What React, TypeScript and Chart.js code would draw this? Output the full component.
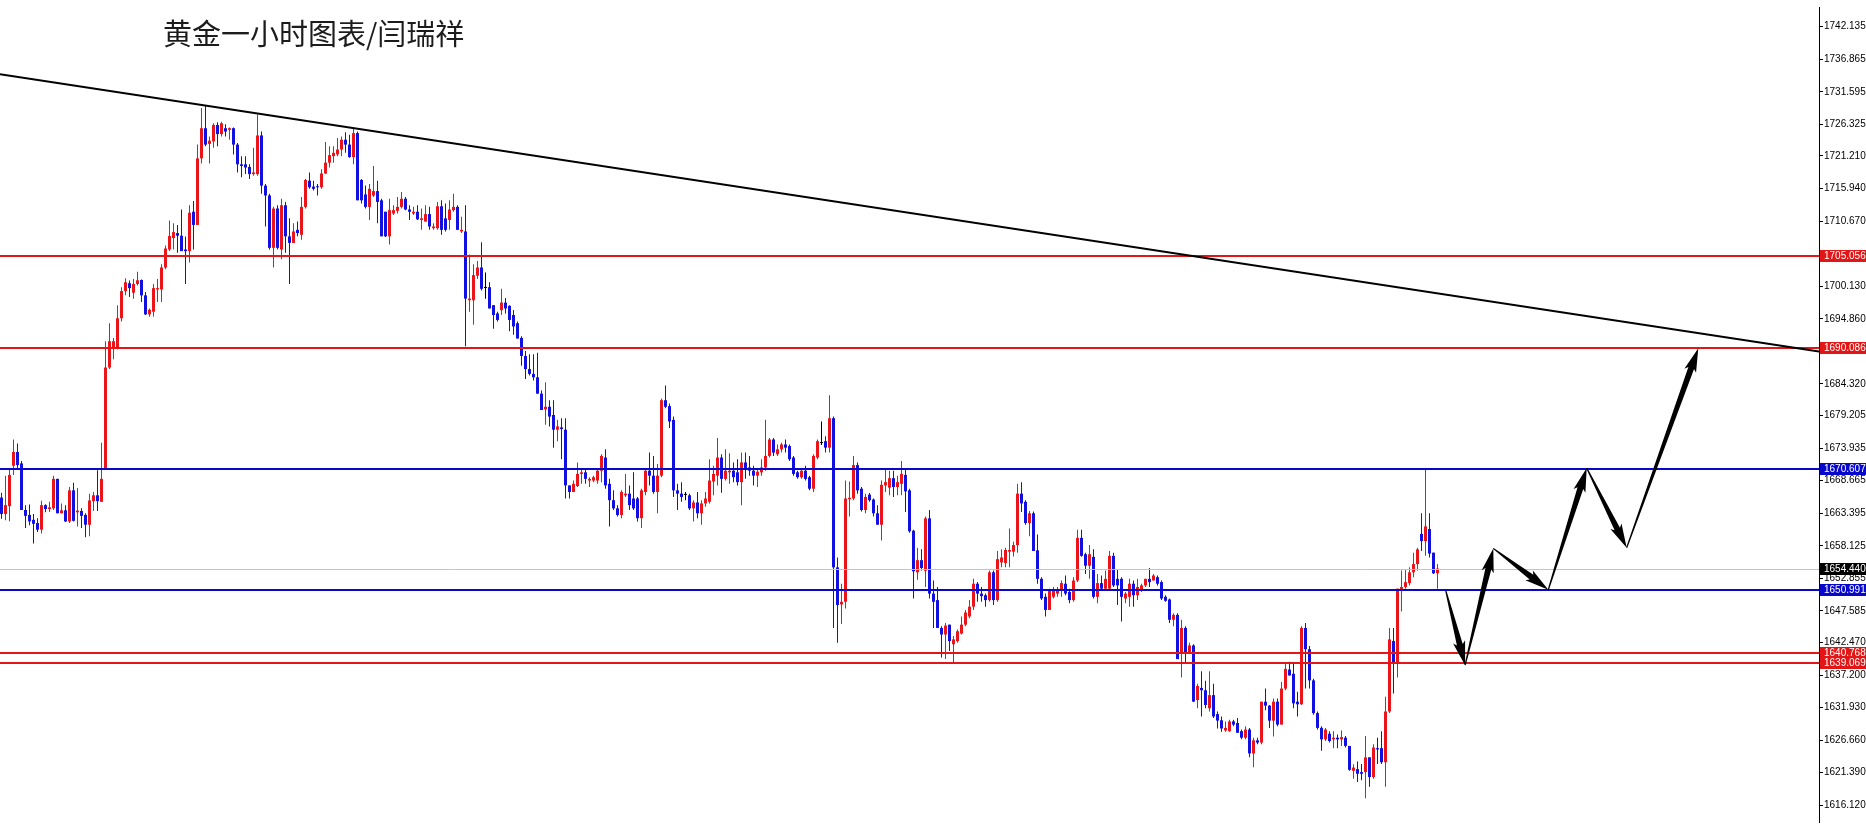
import React, { useEffect, useRef } from 'react';
import { Chart, registerables } from 'chart.js';

Chart.register(...registerables);

const TITLE = '黄金一小时图表/闫瑞祥';

const OPEN = [
1665.93,1663.27,1664.54,1671.07,1673.30,1671.45,1663.91,1663.11,1662.32,1661.80,
1660.73,1664.70,1664.07,1664.18,1668.95,1663.38,1663.86,1662.06,1667.09,1663.54,
1663.75,1663.11,1661.53,1665.34,1666.29,1665.24,1670.54,1686.97,1690.17,1690.17,
1694.94,1699.34,1700.61,1699.07,1700.50,1701.14,1698.65,1695.57,1696.00,1699.61,
1699.61,1703.16,1706.07,1707.93,1708.73,1708.30,1706.07,1705.81,1712.18,1710.05,
1720.82,1725.70,1723.16,1723.57,1726.23,1724.75,1725.70,1725.43,1725.70,1723.05,
1719.86,1719.86,1719.43,1718.27,1718.27,1724.53,1716.41,1714.82,1706.34,1712.70,
1706.07,1713.23,1708.20,1707.14,1709.25,1708.46,1712.97,1717.21,1716.25,1716.25,
1716.15,1718.38,1720.13,1721.18,1721.46,1722.25,1723.84,1723.05,1721.03,1724.91,
1717.32,1714.98,1712.97,1714.82,1715.52,1714.03,1712.18,1708.20,1711.91,1712.33,
1712.97,1714.29,1712.54,1711.91,1712.18,1710.85,1710.59,1711.80,1709.52,1709.52,
1713.07,1711.11,1710.85,1712.44,1712.97,1708.99,1708.99,1697.86,1697.86,1701.83,
1703.16,1699.85,1699.97,1697.06,1695.73,1696.26,1697.48,1696.95,1695.47,1694.14,
1691.76,1688.84,1686.72,1685.93,1685.39,1682.74,1680.20,1680.62,1679.29,1676.91,
1677.28,1676.91,1667.89,1666.83,1667.79,1669.75,1670.01,1668.68,1668.68,1668.68,
1670.27,1672.40,1668.15,1665.50,1664.18,1663.11,1666.29,1666.56,1665.77,1665.77,
1662.59,1666.83,1670.27,1669.47,1666.83,1669.47,1681.68,1680.73,1678.50,1667.09,
1666.56,1666.35,1666.29,1664.18,1665.13,1663.38,1664.97,1665.24,1668.52,1669.47,
1672.40,1668.95,1670.01,1670.27,1670.01,1668.42,1671.61,1670.80,1670.27,1669.47,
1670.01,1670.80,1672.66,1675.32,1672.93,1673.73,1674.52,1674.26,1672.40,1670.01,
1669.22,1670.27,1669.22,1667.36,1672.40,1674.74,1675.05,1674.00,1678.77,1654.63,
1648.63,1649.06,1665.66,1665.77,1671.18,1667.36,1663.91,1666.40,1665.61,1663.38,
1661.53,1667.89,1667.52,1669.06,1667.63,1668.15,1669.59,1667.09,1660.56,1653.83,
1655.79,1654.08,1662.56,1650.38,1649.33,1644.82,1643.76,1645.36,1642.18,1642.70,
1643.92,1645.36,1646.68,1648.27,1651.98,1650.38,1650.12,1649.33,1653.83,1649.33,
1655.43,1655.34,1657.17,1657.17,1658.24,1666.56,1665.24,1661.80,1663.38,1657.38,
1652.77,1649.86,1647.74,1649.86,1650.38,1650.92,1651.98,1650.65,1649.33,1652.50,
1659.40,1656.75,1654.90,1656.33,1649.86,1652.08,1651.18,1651.18,1656.49,1652.77,
1652.77,1649.59,1649.86,1651.98,1650.12,1651.02,1651.71,1652.77,1652.50,1653.04,
1652.24,1649.86,1649.43,1646.15,1646.94,1640.84,1644.82,1640.72,1641.99,1633.15,
1635.11,1634.74,1631.83,1633.95,1630.88,1629.88,1628.23,1628.12,1629.70,1629.44,
1628.12,1627.06,1628.38,1624.51,1626.63,1626.27,1632.89,1632.25,1629.82,1632.89,
1629.18,1635.01,1638.09,1637.40,1632.89,1632.47,1644.82,1641.38,1636.34,1631.04,
1628.65,1626.79,1627.70,1626.79,1627.06,1626.79,1627.06,1625.73,1621.70,1621.97,
1621.49,1621.49,1623.88,1620.70,1625.37,1625.37,1623.09,1631.30,1642.70,1639.25,
1650.92,1651.45,1652.08,1653.83,1655.16,1660.04,1658.88,1660.83,1657.01,1653.67
];

const HIGH = [
1666.72,1669.47,1670.54,1675.32,1674.68,1671.86,1664.70,1664.81,1663.27,1662.59,
1665.40,1664.86,1665.24,1669.47,1668.95,1664.97,1664.70,1667.63,1668.31,1667.47,
1664.18,1663.38,1666.56,1666.83,1670.35,1674.79,1691.23,1694.14,1691.76,1697.06,
1699.97,1701.41,1701.04,1701.30,1702.47,1701.20,1699.18,1696.53,1700.50,1701.30,
1703.69,1706.71,1710.75,1710.32,1710.05,1712.54,1708.19,1713.23,1713.93,1723.05,
1728.98,1729.41,1724.37,1726.50,1726.66,1726.76,1726.34,1725.80,1725.80,1723.32,
1721.18,1721.18,1719.86,1722.52,1727.93,1725.16,1716.68,1715.09,1712.97,1713.23,
1714.29,1713.77,1711.11,1710.32,1710.59,1714.56,1717.47,1718.54,1717.21,1716.68,
1719.07,1723.48,1722.78,1722.78,1724.11,1724.37,1725.06,1724.64,1725.80,1725.16,
1717.47,1716.41,1716.68,1719.59,1717.21,1714.29,1712.18,1714.29,1713.23,1714.56,
1715.36,1714.56,1713.23,1712.97,1713.23,1712.70,1713.23,1712.97,1710.32,1713.77,
1714.03,1713.50,1714.03,1715.09,1713.23,1711.38,1713.23,1705.28,1703.69,1704.22,
1707.25,1702.36,1700.77,1697.06,1696.00,1699.71,1698.23,1697.06,1696.26,1694.41,
1692.02,1689.64,1689.11,1689.11,1689.37,1683.27,1684.59,1681.68,1681.68,1678.50,
1678.77,1678.77,1667.89,1668.68,1671.61,1670.54,1670.54,1669.22,1669.47,1670.54,
1672.93,1673.73,1668.95,1667.09,1664.70,1667.09,1669.75,1667.89,1670.01,1666.03,
1667.36,1670.54,1673.20,1672.66,1671.35,1681.95,1684.06,1681.15,1679.03,1668.15,
1668.42,1666.83,1666.56,1665.50,1666.83,1665.50,1666.83,1672.13,1671.07,1675.58,
1672.93,1673.73,1673.09,1671.61,1672.13,1673.20,1673.20,1672.66,1671.07,1670.54,
1672.13,1678.50,1675.58,1675.58,1674.52,1674.79,1675.32,1674.52,1672.66,1670.27,
1670.54,1671.07,1669.47,1672.93,1675.32,1678.23,1675.85,1682.48,1679.03,1656.22,
1651.98,1668.68,1668.52,1672.66,1671.61,1667.63,1666.56,1666.67,1665.77,1664.70,
1668.68,1670.54,1670.27,1670.27,1669.47,1671.86,1670.54,1667.36,1660.73,1657.81,
1657.54,1662.85,1663.91,1652.50,1651.45,1645.09,1645.62,1645.36,1643.50,1644.56,
1646.68,1647.74,1649.33,1652.77,1652.24,1651.45,1650.38,1654.10,1654.10,1657.28,
1657.54,1657.81,1660.91,1658.76,1668.15,1668.42,1665.50,1663.75,1663.65,1659.93,
1653.04,1650.38,1651.18,1651.45,1651.45,1652.50,1653.31,1651.18,1653.04,1660.73,
1660.73,1657.01,1658.24,1657.54,1653.56,1653.31,1654.10,1657.28,1657.01,1654.37,
1653.04,1650.65,1652.77,1652.50,1652.77,1651.98,1652.77,1654.52,1653.56,1653.30,
1652.50,1650.12,1649.59,1647.21,1647.21,1646.15,1645.09,1642.43,1642.18,1635.79,
1637.82,1636.28,1637.82,1635.79,1631.30,1630.48,1629.70,1629.96,1629.96,1630.24,
1628.38,1628.91,1628.65,1627.06,1627.06,1632.89,1635.01,1632.36,1633.42,1633.42,
1636.07,1638.99,1639.36,1639.25,1634.48,1645.09,1645.62,1641.91,1636.60,1631.30,
1628.91,1628.65,1628.12,1628.12,1627.59,1628.23,1627.32,1625.73,1622.75,1623.22,
1622.81,1627.32,1623.88,1626.00,1627.06,1628.12,1633.68,1644.82,1644.82,1651.18,
1654.10,1654.37,1654.63,1657.01,1657.81,1663.38,1670.54,1663.38,1657.01,1655.16
];

const LOW = [
1662.48,1662.27,1662.11,1669.59,1670.43,1663.91,1661.00,1661.43,1658.50,1660.36,
1660.10,1663.54,1663.59,1663.91,1663.38,1663.38,1661.95,1661.80,1662.06,1661.26,
1661.00,1659.51,1659.67,1663.75,1663.75,1665.24,1670.54,1686.72,1688.31,1689.91,
1694.41,1698.65,1698.39,1698.12,1700.24,1697.59,1695.47,1695.20,1695.20,1697.59,
1697.59,1702.89,1705.82,1706.07,1705.55,1705.81,1700.50,1703.95,1706.07,1710.05,
1719.97,1722.78,1719.97,1722.52,1722.78,1724.37,1724.37,1723.84,1721.46,1718.54,
1717.75,1718.27,1717.47,1718.00,1718.00,1715.09,1709.79,1706.07,1703.16,1706.07,
1704.48,1705.55,1700.50,1707.14,1708.20,1707.66,1712.70,1715.89,1715.62,1714.82,
1715.89,1718.27,1719.34,1720.13,1721.18,1721.18,1721.72,1720.93,1719.86,1714.03,
1713.50,1712.70,1710.85,1714.56,1710.32,1708.20,1708.09,1706.87,1711.65,1711.91,
1712.70,1712.44,1710.85,1711.65,1710.85,1709.25,1710.59,1709.25,1709.25,1709.25,
1708.46,1708.99,1709.25,1712.18,1709.25,1708.73,1690.43,1696.00,1693.88,1701.30,
1699.45,1698.12,1696.53,1693.25,1694.41,1695.47,1695.73,1692.82,1692.29,1691.66,
1687.25,1685.13,1685.66,1684.86,1682.74,1680.09,1677.70,1677.44,1673.99,1675.05,
1672.13,1665.77,1665.77,1666.83,1667.63,1668.15,1668.15,1667.63,1668.42,1668.15,
1668.42,1667.36,1661.26,1663.91,1662.85,1662.59,1666.03,1663.91,1663.91,1662.06,
1661.00,1666.29,1667.89,1666.56,1663.38,1669.22,1680.36,1677.18,1666.03,1663.91,
1665.24,1665.50,1663.91,1662.06,1662.59,1661.53,1664.44,1664.97,1666.29,1667.89,
1666.72,1668.68,1668.15,1668.42,1667.89,1664.70,1668.95,1669.47,1667.89,1667.63,
1669.47,1670.27,1672.40,1672.66,1672.66,1673.20,1673.20,1671.86,1669.47,1668.95,
1668.95,1668.68,1667.09,1666.83,1672.13,1674.42,1673.20,1673.20,1644.82,1642.43,
1645.47,1647.96,1662.85,1665.50,1666.56,1663.65,1663.38,1665.24,1662.85,1661.53,
1658.97,1666.83,1666.29,1666.03,1666.29,1666.29,1663.59,1660.21,1649.59,1652.61,
1654.10,1651.45,1649.59,1644.82,1644.82,1640.04,1639.78,1641.11,1639.22,1642.43,
1643.76,1645.09,1646.41,1647.74,1649.06,1649.06,1648.27,1649.06,1648.53,1649.06,
1654.63,1654.63,1654.63,1656.39,1657.01,1663.59,1661.53,1659.67,1657.28,1651.98,
1649.33,1646.68,1647.74,1649.59,1649.86,1649.86,1650.12,1648.80,1649.06,1652.24,
1656.33,1653.56,1652.77,1649.59,1648.80,1650.92,1650.92,1650.92,1651.45,1648.53,
1645.88,1648.80,1648.27,1648.27,1649.33,1650.65,1651.45,1651.45,1652.50,1651.71,
1649.33,1649.06,1645.62,1645.09,1639.78,1636.81,1639.25,1640.72,1632.89,1631.83,
1630.48,1631.83,1631.30,1630.24,1628.55,1628.02,1628.02,1628.02,1628.91,1627.85,
1626.79,1626.79,1623.88,1622.28,1626.00,1626.00,1631.51,1628.65,1627.24,1628.91,
1629.18,1634.74,1637.13,1631.83,1630.48,1632.36,1635.01,1635.01,1630.77,1628.38,
1624.93,1626.53,1626.27,1625.37,1625.37,1625.73,1625.47,1621.70,1620.43,1619.91,
1620.17,1617.25,1619.11,1620.43,1622.81,1622.81,1619.11,1631.04,1634.21,1636.81,
1647.47,1651.18,1651.71,1653.04,1654.10,1657.28,1656.49,1656.22,1653.56,1651.18
];

const CLOSE = [
1663.27,1664.70,1669.59,1673.30,1671.18,1663.91,1662.96,1662.06,1661.68,1660.73,
1664.70,1664.07,1664.34,1668.95,1663.38,1663.86,1662.06,1667.09,1662.16,1663.81,
1662.96,1661.53,1665.45,1666.29,1665.34,1668.95,1686.97,1691.23,1691.23,1694.94,
1699.34,1700.77,1699.82,1700.50,1701.09,1698.65,1695.57,1696.32,1699.82,1699.82,
1703.16,1706.23,1708.25,1708.89,1708.30,1705.81,1705.81,1712.02,1710.05,1720.82,
1725.70,1723.05,1723.68,1726.23,1724.75,1726.50,1725.16,1725.70,1723.05,1719.86,
1719.59,1719.34,1718.27,1718.54,1724.53,1716.41,1714.82,1706.34,1712.70,1706.34,
1713.23,1708.20,1707.14,1708.99,1708.73,1712.97,1717.32,1716.15,1715.89,1716.15,
1718.38,1720.13,1721.34,1721.72,1722.25,1723.84,1723.05,1721.03,1724.91,1714.03,
1714.03,1712.97,1715.89,1715.52,1713.77,1708.20,1708.20,1712.44,1712.44,1712.97,
1714.29,1712.54,1712.18,1712.18,1710.96,1711.11,1711.80,1709.79,1709.79,1713.07,
1709.25,1709.25,1712.54,1712.97,1709.25,1709.25,1698.12,1698.12,1701.93,1703.16,
1699.71,1699.85,1696.53,1695.47,1694.67,1697.48,1696.53,1694.67,1693.61,1691.66,
1688.84,1686.72,1685.93,1685.39,1682.74,1680.09,1680.62,1679.03,1676.91,1677.44,
1677.02,1667.89,1666.83,1668.15,1669.75,1670.01,1668.95,1668.95,1669.22,1670.27,
1672.66,1667.89,1665.50,1664.18,1663.11,1666.83,1666.56,1664.70,1664.18,1662.59,
1667.09,1670.27,1669.47,1666.83,1669.47,1681.68,1680.62,1678.23,1667.09,1666.56,
1666.03,1666.35,1664.18,1665.13,1663.38,1664.97,1665.77,1668.68,1669.75,1672.40,
1668.95,1670.27,1670.27,1669.22,1668.42,1671.61,1670.54,1670.27,1669.47,1670.11,
1670.80,1672.66,1675.32,1673.20,1673.73,1674.52,1674.00,1672.13,1669.75,1669.22,
1670.27,1668.95,1667.36,1672.66,1675.05,1674.74,1674.00,1678.77,1654.63,1648.53,
1649.06,1665.77,1665.88,1671.18,1667.09,1663.91,1666.03,1665.50,1663.38,1661.53,
1667.99,1668.42,1669.06,1667.63,1668.42,1669.75,1666.93,1660.47,1653.99,1655.79,
1654.52,1662.56,1650.38,1649.06,1644.82,1643.76,1645.20,1642.70,1642.97,1644.29,
1645.36,1647.32,1648.27,1651.98,1650.38,1649.97,1649.33,1653.83,1649.33,1655.95,
1656.22,1657.44,1657.44,1658.24,1666.56,1664.97,1661.80,1663.38,1657.28,1652.77,
1649.59,1647.74,1650.92,1650.92,1651.02,1652.08,1650.38,1649.33,1652.50,1659.40,
1656.49,1654.90,1656.75,1649.86,1652.08,1651.18,1652.77,1656.49,1651.71,1651.71,
1649.86,1650.38,1651.98,1650.12,1651.45,1651.71,1652.77,1652.24,1653.30,1651.98,
1649.59,1649.22,1646.15,1646.94,1639.78,1644.82,1640.84,1641.99,1632.89,1635.43,
1634.74,1632.36,1633.95,1630.50,1629.83,1628.55,1628.65,1629.70,1629.18,1627.85,
1627.06,1628.38,1624.51,1626.63,1626.27,1632.89,1632.25,1629.82,1632.89,1629.18,
1635.01,1638.20,1637.13,1632.62,1632.47,1644.82,1641.38,1636.34,1631.04,1628.65,
1626.79,1628.38,1626.53,1627.06,1626.79,1627.16,1625.73,1621.86,1622.22,1621.22,
1621.22,1623.88,1620.70,1625.47,1625.16,1623.09,1631.30,1642.97,1639.25,1651.18,
1651.45,1652.24,1653.83,1655.16,1657.54,1658.88,1661.26,1656.86,1653.67,1654.44
];

const Y_TICKS = [
  1742.135, 1736.865, 1731.595, 1726.325, 1721.21, 1715.94, 1710.67, 1700.13,
  1694.86, 1689.59, 1684.32, 1679.205, 1673.935, 1668.665, 1663.395, 1658.125,
  1652.855, 1647.585, 1642.47, 1637.2, 1631.93, 1626.66, 1621.39, 1616.12,
];
const RED_LEVELS = [1705.056, 1690.086, 1640.768, 1639.069];
const BLUE_LEVELS = [1670.607, 1650.991];
const LAST_PRICE = 1654.44;
const TREND_X = [-0.375, 454.375];
const TREND_Y = [1734.42, 1689.55];
const PATH_X = [361.05, 365.9, 372.95, 386.7, 396.3, 406.3, 424.2];
const PATH_Y = [1650.9, 1638.8, 1657.7, 1651.0, 1670.7, 1657.8, 1690.1];

const RED = 'rgb(236,20,24)';
const BLUE = 'rgb(16,16,226)';
const LINE_RED = 'rgb(226,22,22)';
const LINE_BLUE = 'rgb(8,8,205)';
const LABEL_FONT = '10px "Liberation Sans", Arial, sans-serif';

function drawArrow(ctx: CanvasRenderingContext2D, x0: number, y0: number, x1: number, y1: number) {
  const dx = x1 - x0, dy = y1 - y0;
  const len = Math.hypot(dx, dy);
  const ux = dx / len, uy = dy / len;
  const nx = -uy, ny = ux;
  const headLen = Math.min(21, len * 0.4);
  const headW = 6.2;
  const w0 = 0.6, w1 = 3.0;
  const bx = x1 - ux * headLen, by = y1 - uy * headLen;
  ctx.beginPath();
  ctx.moveTo(x0 + nx * w0, y0 + ny * w0);
  ctx.lineTo(bx + nx * w1, by + ny * w1);
  ctx.lineTo(bx - ux * 3 + nx * headW, by - uy * 3 + ny * headW);
  ctx.lineTo(x1, y1);
  ctx.lineTo(bx - ux * 3 - nx * headW, by - uy * 3 - ny * headW);
  ctx.lineTo(bx - nx * w1, by - ny * w1);
  ctx.lineTo(x0 - nx * w0, y0 - ny * w0);
  ctx.closePath();
  ctx.fill();
}

const overlayPlugin = {
  id: 'overlay',
  afterDatasetsDraw(chart: any) {
    const { ctx, chartArea, scales } = chart;
    const xs = scales.x, ys = scales.y;
    ctx.save();
    ctx.beginPath();
    ctx.rect(chartArea.left, chartArea.top, chartArea.right - chartArea.left, chartArea.bottom - chartArea.top);
    ctx.clip();

    // last price line
    const ly = Math.round(ys.getPixelForValue(LAST_PRICE)) + 0.5;
    ctx.strokeStyle = '#c4c4c4';
    ctx.lineWidth = 1;
    ctx.beginPath();
    ctx.moveTo(chartArea.left, ly);
    ctx.lineTo(chartArea.right, ly);
    ctx.stroke();

    const drawLevel = (v: number, color: string) => {
      const py = Math.round(ys.getPixelForValue(v));
      ctx.strokeStyle = color;
      ctx.lineWidth = 2;
      ctx.beginPath();
      ctx.moveTo(chartArea.left, py);
      ctx.lineTo(chartArea.right, py);
      ctx.stroke();
    };
    RED_LEVELS.forEach((v) => drawLevel(v, LINE_RED));
    BLUE_LEVELS.forEach((v) => drawLevel(v, LINE_BLUE));

    // trendline
    ctx.strokeStyle = '#000';
    ctx.lineWidth = 2;
    ctx.beginPath();
    ctx.moveTo(xs.getPixelForValue(TREND_X[0]), ys.getPixelForValue(TREND_Y[0]));
    ctx.lineTo(xs.getPixelForValue(TREND_X[1]), ys.getPixelForValue(TREND_Y[1]));
    ctx.stroke();

    // forecast arrows
    ctx.fillStyle = '#000';
    for (let k = 0; k < PATH_X.length - 1; k++) {
      drawArrow(
        ctx,
        xs.getPixelForValue(PATH_X[k]), ys.getPixelForValue(PATH_Y[k]),
        xs.getPixelForValue(PATH_X[k + 1]), ys.getPixelForValue(PATH_Y[k + 1])
      );
    }
    ctx.restore();
  },
  afterDraw(chart: any) {
    const { ctx, chartArea, scales, width } = chart;
    const ys = scales.y;
    ctx.save();
    const box = (v: number, bg: string) => {
      const py = Math.round(ys.getPixelForValue(v));
      ctx.fillStyle = bg;
      ctx.fillRect(chartArea.right + 1, py - 6, width - chartArea.right - 1, 12);
      ctx.fillStyle = '#fff';
      ctx.font = LABEL_FONT;
      ctx.textBaseline = 'middle';
      ctx.textAlign = 'left';
      ctx.fillText(v.toFixed(3), chartArea.right + 5, py + 0.5);
    };
    RED_LEVELS.forEach((v) => box(v, LINE_RED));
    BLUE_LEVELS.forEach((v) => box(v, LINE_BLUE));
    box(LAST_PRICE, '#000');

    // title
    ctx.fillStyle = '#1c1c1c';
    ctx.font = '29px "Noto Sans CJK SC", sans-serif';
    ctx.textBaseline = 'middle';
    ctx.textAlign = 'left';
    ctx.fillText(TITLE, 163, 34);
    ctx.restore();
  },
};

export default function App() {
  const ref = useRef<HTMLCanvasElement | null>(null);

  useEffect(() => {
    if (!ref.current) return;
    const idx = OPEN.map((_, i) => i);
    const colors = idx.map((i) => (CLOSE[i] > OPEN[i] ? RED : CLOSE[i] < OPEN[i] ? BLUE : '#000'));
    const chart = new Chart(ref.current, {
      type: 'bar',
      data: {
        datasets: [
          {
            label: 'body',
            data: idx.map((i) => ({ x: i, y: [OPEN[i], CLOSE[i]] })) as any,
            backgroundColor: colors,
            barThickness: 3,
            minBarLength: 1,
            grouped: false,
            inflateAmount: 0,
            borderWidth: 0,
            order: 1,
          } as any,
          {
            label: 'wick',
            data: idx.map((i) => ({ x: i, y: [LOW[i], HIGH[i]] })) as any,
            backgroundColor: colors,
            barThickness: 1,
            grouped: false,
            inflateAmount: 0,
            borderWidth: 0,
            order: 2,
          } as any,
        ],
      },
      options: {
        animation: false,
        responsive: false,
        maintainAspectRatio: false,
        devicePixelRatio: 1,
        layout: { padding: 0 },
        plugins: { legend: { display: false }, tooltip: { enabled: false }, title: { display: false } },
        scales: {
          x: {
            type: 'linear',
            display: false,
            offset: false,
            min: -0.375,
            max: 454.375,
            grid: { display: false },
          },
          y: {
            type: 'linear',
            position: 'right',
            min: 1613.417,
            max: 1745.317,
            beginAtZero: false,
            afterFit: (s: any) => { s.width = 47; },
            afterBuildTicks: (s: any) => { s.ticks = Y_TICKS.map((v) => ({ value: v })); },
            ticks: {
              autoSkip: false,
              padding: 1,
              color: '#000',
              font: { family: '"Liberation Sans", Arial, sans-serif', size: 10 },
              callback: (v: any) => Number(v).toFixed(3),
            },
            grid: { drawOnChartArea: false, drawTicks: true, tickLength: 4, color: '#000' },
            border: { display: true, color: '#000', width: 1 },
          },
        },
      } as any,
      plugins: [overlayPlugin],
    });
    return () => chart.destroy();
  }, []);

  return (
    <div style={{ position: 'fixed', left: 0, top: 0, width: 1866, height: 829, background: '#fff' }}>
      <canvas ref={ref} width={1866} height={829} style={{ width: 1866, height: 829, display: 'block' }} />
    </div>
  );
}
